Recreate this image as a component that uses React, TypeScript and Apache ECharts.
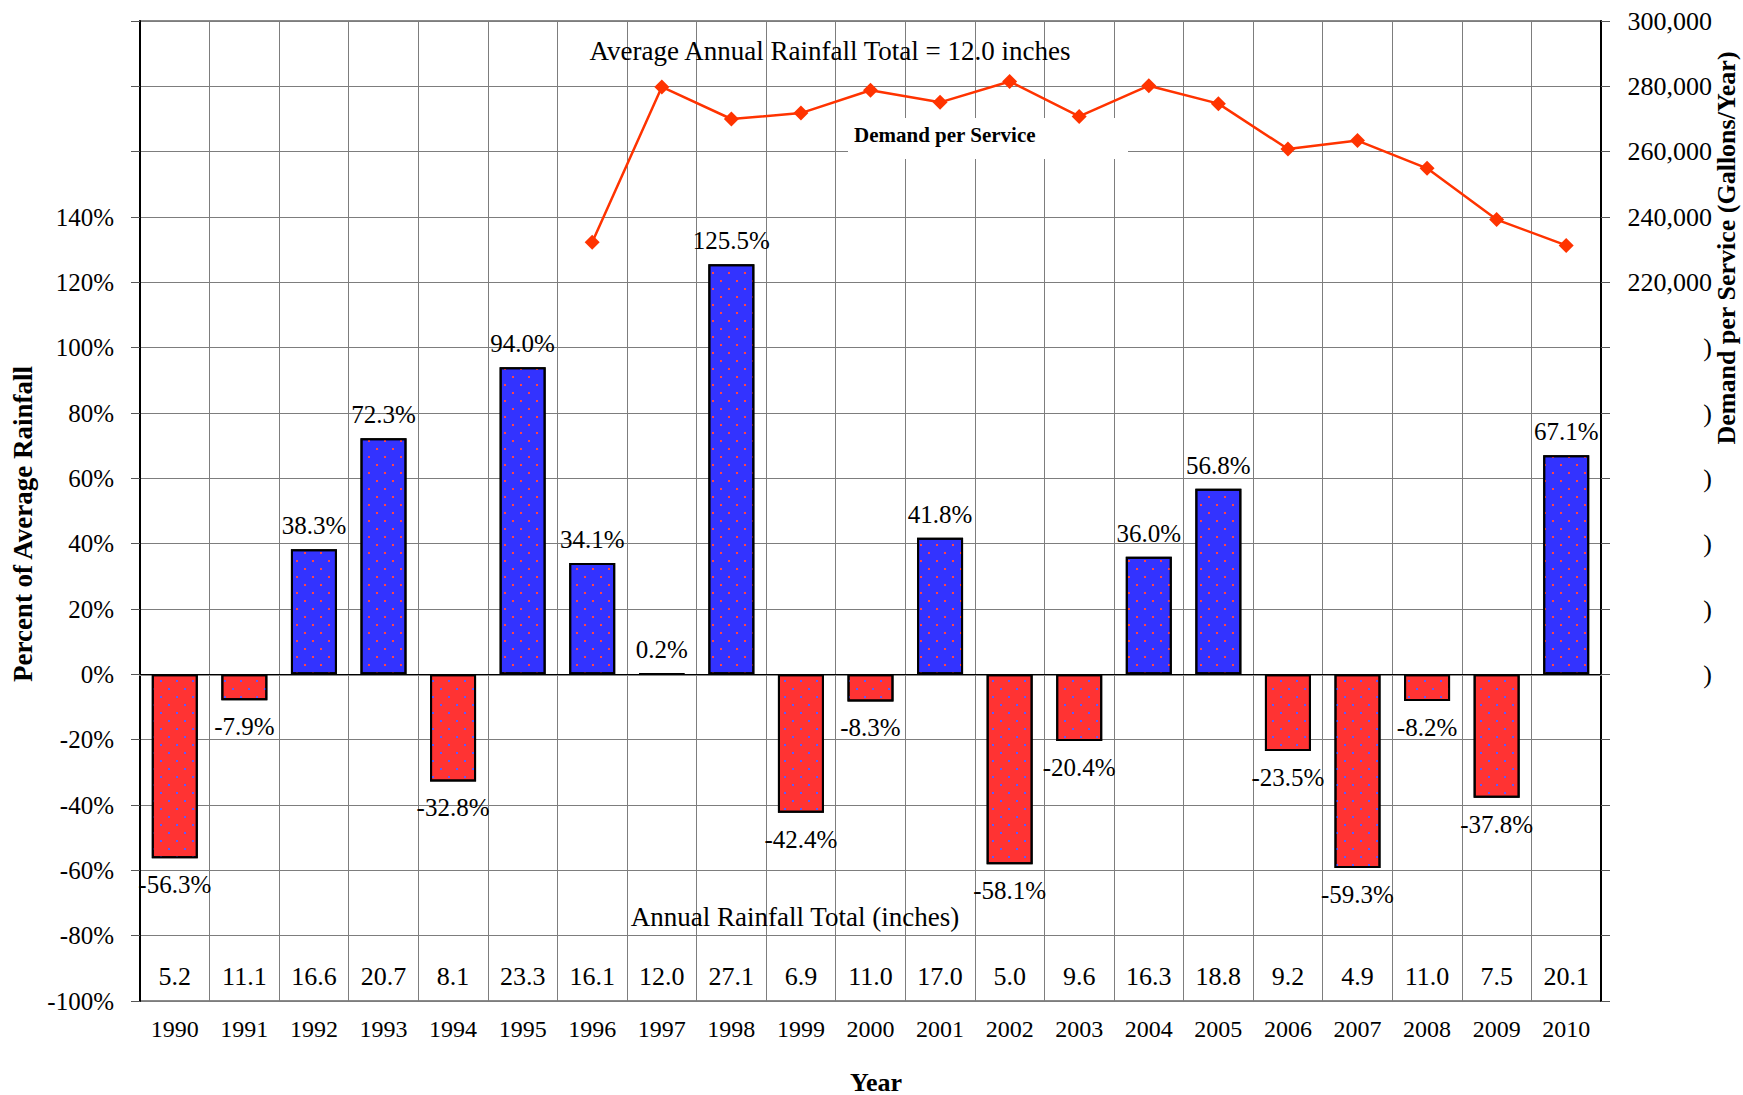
import React, { useEffect, useRef } from 'react';
import * as echarts from 'echarts';

const years = ['1990', '1991', '1992', '1993', '1994', '1995', '1996', '1997', '1998', '1999', '2000', '2001', '2002', '2003', '2004', '2005', '2006', '2007', '2008', '2009', '2010'];
const percentOfAverage = [-56.3, -7.9, 38.3, 72.3, -32.8, 94.0, 34.1, 0.2, 125.5, -42.4, -8.3, 41.8, -58.1, -20.4, 36.0, 56.8, -23.5, -59.3, -8.2, -37.8, 67.1];
const rainfallInches = ['5.2', '11.1', '16.6', '20.7', '8.1', '23.3', '16.1', '12.0', '27.1', '6.9', '11.0', '17.0', '5.0', '9.6', '16.3', '18.8', '9.2', '4.9', '11.0', '7.5', '20.1'];
const demandPerService = [null, null, null, null, null, null, 232300, 279800, 270000, 271800, 278800, 275100, 281500, 270800, 280200, 274700, 260800, 263400, 254900, 239200, 231300];

const titleText = 'Average Annual Rainfall Total = 12.0 inches';
const rowText = 'Annual Rainfall Total (inches)';
const lineLabelText = 'Demand per Service';
const leftAxisName = 'Percent of Average Rainfall';
const rightAxisName = 'Demand per Service (Gallons/Year)';
const xAxisName = 'Year';

const FONT = 'Liberation Serif';
const BLUE = '#3333ff';
const RED = '#ff3333';

function dots(color: string) {
  return {
    symbol: 'rect',
    symbolSize: 1,
    color,
    dashArrayX: [[2, 14], [0, 8, 2, 6]],
    dashArrayY: [2, 6],
    rotation: 0,
  };
}

export default function App() {
  const ref = useRef<HTMLDivElement>(null);
  useEffect(() => {
    if (!ref.current) return;
    const chart = echarts.init(ref.current, undefined, { renderer: 'svg' });
    const grid = '#7d7d7d';
    const barLabel = {
      show: true,
      color: '#000',
      fontSize: 25,
      fontFamily: FONT,
      fontWeight: 'normal',
    };
    chart.setOption({
      animation: false,
      backgroundColor: '#ffffff',
      textStyle: { fontFamily: FONT },
      grid: { left: 140, right: 142, top: 21, bottom: 94, show: true, borderColor: '#8a8a8a', borderWidth: 2, backgroundColor: 'transparent' },
      xAxis: [
        {
          type: 'category',
          data: years,
          position: 'bottom',
          boundaryGap: true,
          axisLine: { show: true, lineStyle: { color: '#8a8a8a', width: 2 } },
          axisTick: { show: false },
          axisLabel: { interval: 0, margin: 16, color: '#000', fontSize: 24, fontFamily: FONT },
          splitLine: { show: true, interval: 0, lineStyle: { color: grid, width: 1 } },
        },
        {
          type: 'category',
          data: rainfallInches,
          position: 'bottom',
          boundaryGap: true,
          axisLine: { show: false },
          axisTick: { show: false },
          splitLine: { show: false },
          axisLabel: { inside: true, interval: 0, margin: 12, color: '#000', fontSize: 26, fontFamily: FONT },
        },
      ],
      yAxis: [
        {
          type: 'value',
          min: -100,
          max: 200,
          interval: 20,
          position: 'left',
          axisLine: { show: true, lineStyle: { color: '#000', width: 2 } },
          axisTick: { show: true, length: 9, lineStyle: { color: '#555' } },
          axisLabel: { margin: 26, color: '#000', fontSize: 25, fontFamily: FONT, formatter: (v: number) => (v > 140 ? '' : v + '%') },
          splitLine: { show: true, lineStyle: { color: grid, width: 1 } },
        },
        {
          type: 'value',
          min: 0,
          max: 300000,
          interval: 20000,
          position: 'right',
          axisLine: { show: true, lineStyle: { color: '#000', width: 2 } },
          axisTick: { show: true, length: 9, lineStyle: { color: '#555' } },
          axisLabel: {
            margin: 111,
            align: 'right',
            color: '#000',
            fontSize: 26,
            fontFamily: FONT,
            formatter: (v: number) => (v >= 220000 ? v.toLocaleString('en-US') : v >= 100000 ? ')' : ''),
          },
          splitLine: { show: false },
        },
      ],
      graphic: [
        { type: 'text', x: 830, y: 51, z: 5, style: { text: titleText, font: `27px ${FONT}`, fill: '#000', align: 'center', verticalAlign: 'middle' } },
        { type: 'text', x: 795, y: 917, z: 5, style: { text: rowText, font: `27px ${FONT}`, fill: '#000', align: 'center', verticalAlign: 'middle' } },
        { type: 'rect', z: 1, shape: { x: 848, y: 118, width: 280, height: 41 }, style: { fill: '#ffffff' } },
        { type: 'text', x: 854, y: 135, z: 1, style: { text: lineLabelText, font: `bold 21px ${FONT}`, fill: '#000', align: 'left', verticalAlign: 'middle' } },
        { type: 'text', x: 23, y: 524, rotation: Math.PI / 2, z: 5, style: { text: leftAxisName, font: `bold 27px ${FONT}`, fill: '#000', align: 'center', verticalAlign: 'middle' } },
        { type: 'text', x: 1726, y: 248, rotation: Math.PI / 2, z: 5, style: { text: rightAxisName, font: `bold 26px ${FONT}`, fill: '#000', align: 'center', verticalAlign: 'middle' } },
        { type: 'text', x: 876, y: 1082, z: 5, style: { text: xAxisName, font: `bold 26px ${FONT}`, fill: '#000', align: 'center', verticalAlign: 'middle' } },
      ],
      series: [
        {
          type: 'bar',
          xAxisIndex: 0,
          yAxisIndex: 0,
          barWidth: 46,
          z: 3,
          data: percentOfAverage.map((v) => ({
            value: v,
            itemStyle: {
              color: v >= 0 ? BLUE : RED,
              borderColor: '#000',
              borderWidth: 2,
              decal: dots(v >= 0 ? '#ff4444' : '#5a5aff'),
            },
            label: { ...barLabel, position: v >= 0 ? 'top' : 'bottom', distance: v >= 0 ? 11 : 14 },
          })),
          label: {
            ...barLabel,
            formatter: (p: any) => Number(p.value).toFixed(1) + '%',
          },
          markLine: {
            silent: true,
            symbol: 'none',
            label: { show: false },
            lineStyle: { color: '#000', width: 1, type: 'solid' },
            data: [{ yAxis: 0 }],
          },
        },
        {
          type: 'line',
          xAxisIndex: 0,
          yAxisIndex: 1,
          data: demandPerService,
          z: 4,
          symbol: 'diamond',
          symbolSize: 15,
          showSymbol: true,
          connectNulls: false,
          lineStyle: { color: '#ff3300', width: 2.5 },
          itemStyle: { color: '#ff3300' },
        },
      ],
    });
    return () => chart.dispose();
  }, []);
  return <div ref={ref} style={{ position: 'absolute', left: 0, top: 0, width: 1743, height: 1095 }} />;
}
